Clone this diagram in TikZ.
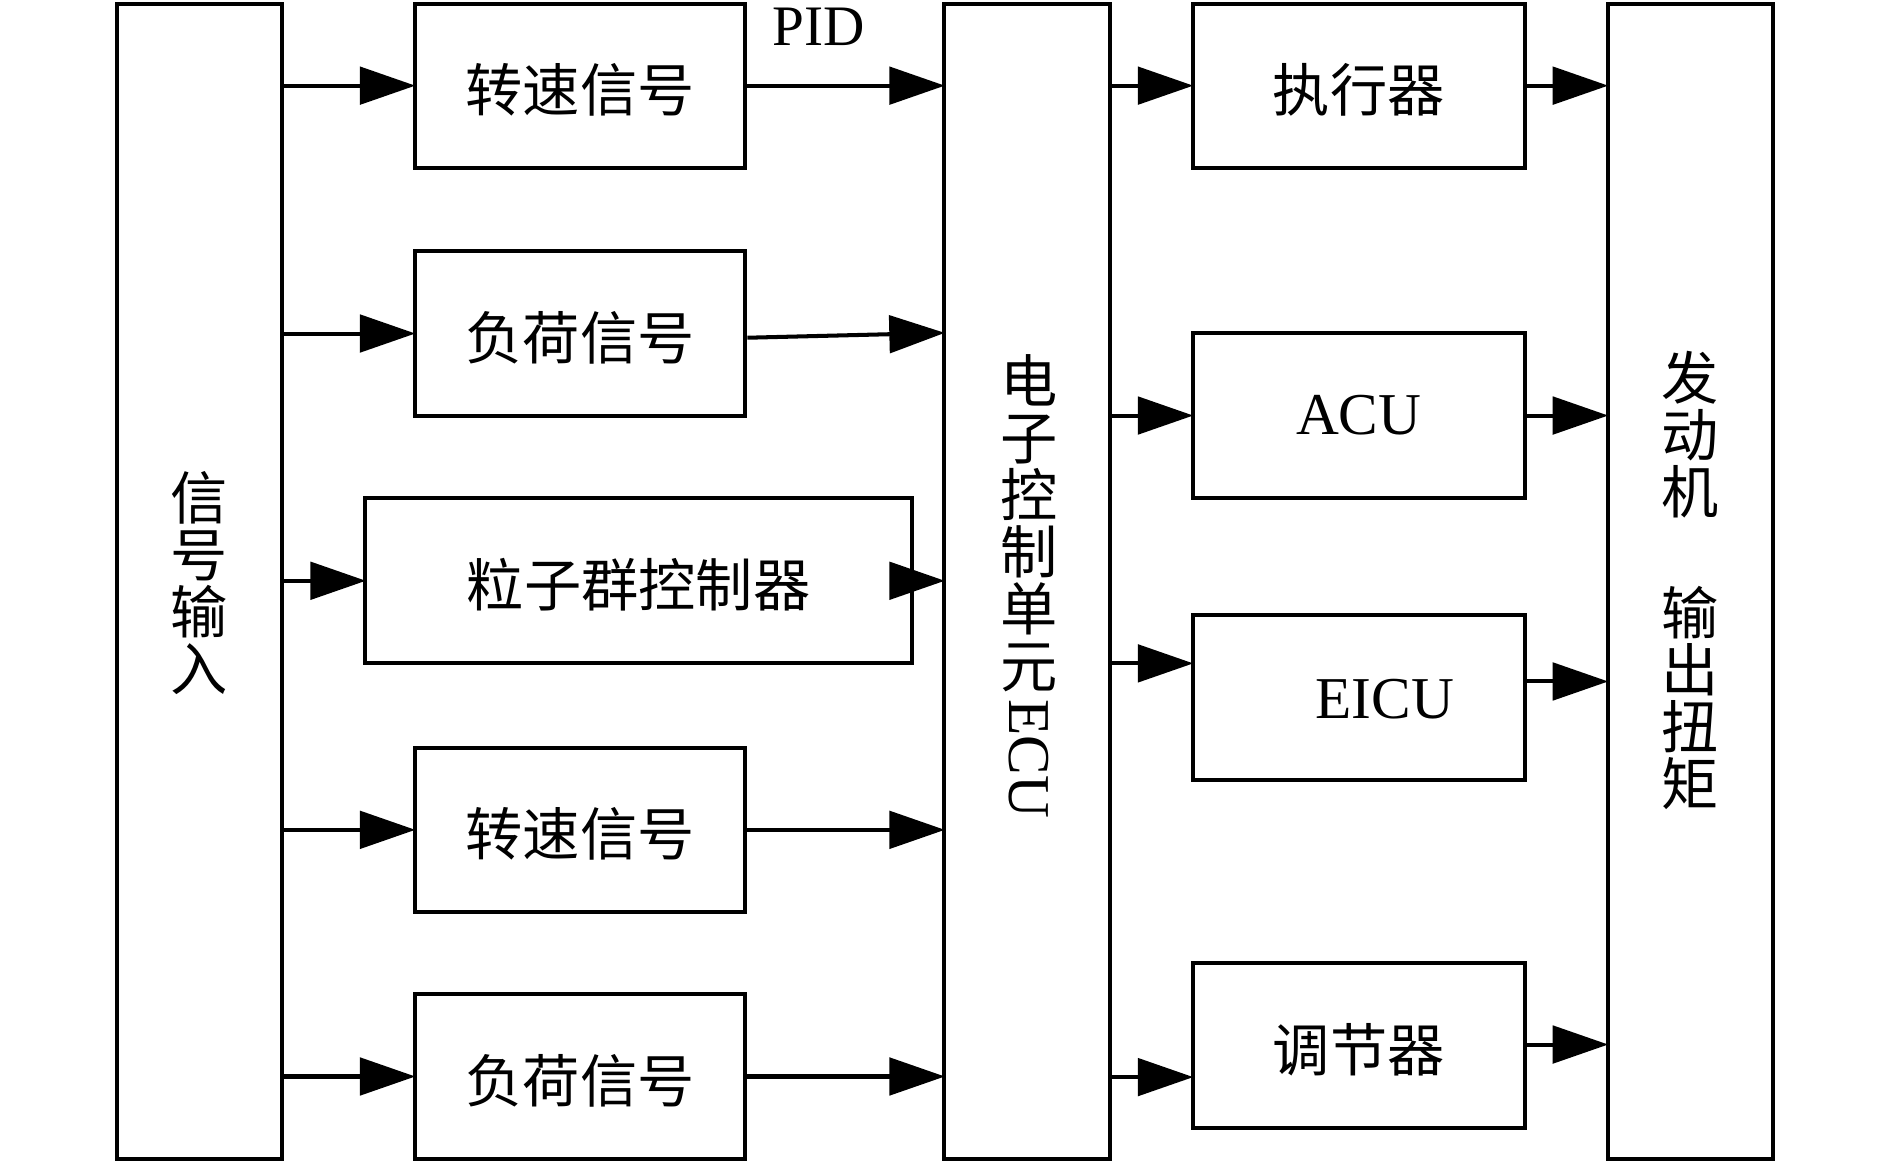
\documentclass[tikz,border=0pt]{standalone}
\usepackage{fontspec}
\setmainfont{Liberation Serif}
\newfontfamily\cjk{Noto Sans CJK SC}
\usetikzlibrary{arrows.meta,calc}
\newcommand{\lowered}[1]{\raisebox{-0.035cm}[\height][\depth]{#1}}
\tikzset{
  box/.style={draw=black, line width=0.95pt, inner sep=0pt, fill=none},
  zh/.style={font=\cjk\fontsize{13.5pt}{13.45pt}\selectfont, inner sep=0pt, align=center},
  en/.style={font=\fontsize{14pt}{14pt}\selectfont, inner sep=0pt},
  arr/.style={line width=0.95pt, -{Triangle[length=0.46cm, width=0.31cm]}, shorten >=-0.02cm},
}
\begin{document}
\begin{tikzpicture}
\useasboundingbox (0,0) rectangle (15.67,-9.63);
% tall boxes
\node[box, minimum width=1.37cm, minimum height=9.58cm] (in)  at (1.655,-4.82) {};
\node[box, minimum width=1.37cm, minimum height=9.58cm] (ecu) at (8.515,-4.82) {};
\node[box, minimum width=1.37cm, minimum height=9.58cm] (eng) at (14.015,-4.82) {};
% column 2
\node[box, zh, minimum width=2.74cm, minimum height=1.36cm] (s1)  at (4.81,-0.71) {\lowered{转速信号}};
\node[box, zh, minimum width=2.74cm, minimum height=1.37cm] (l1)  at (4.81,-2.765) {\lowered{负荷信号}};
\node[box, zh, minimum width=4.53cm, minimum height=1.37cm] (pso) at (5.295,-4.815) {\lowered{粒子群控制器}};
\node[box, zh, minimum width=2.74cm, minimum height=1.36cm] (s2)  at (4.81,-6.88) {\lowered{转速信号}};
\node[box, zh, minimum width=2.74cm, minimum height=1.37cm] (l2)  at (4.81,-8.925) {\lowered{负荷信号}};
% column 4
\node[box, zh, minimum width=2.75cm, minimum height=1.36cm] (act)  at (11.265,-0.71) {\lowered{执行器}};
\node[box, en, minimum width=2.75cm, minimum height=1.37cm] (acu)  at (11.265,-3.445) {ACU};
\node[box, minimum width=2.75cm, minimum height=1.37cm] (eicu) at (11.265,-5.785) {};
\node[en] (eicut) at (11.48,-5.80) {EICU};
\node[box, zh, minimum width=2.75cm, minimum height=1.37cm] (reg)  at (11.265,-8.665) {\lowered{调节器}};
% vertical texts
\node[zh] (intext) at (1.65,-4.83) {信\\号\\输\\入};
\node[zh] (ecutext) at (8.53,-4.34) {电\\子\\控\\制\\单\\元};
\node[en, rotate=-90] (ecuen) at (8.53,-6.29) {ECU};
\node[zh] (engtext1) at (14.01,-3.605) {发\\动\\机};
\node[zh] (engtext2) at (14.01,-5.79) {输\\出\\扭\\矩};
\node[en, font=\fontsize{13.5pt}{13.5pt}\selectfont] (pid) at (6.79,-0.22) {PID};
% helper coordinates
\coordinate (r1) at (0,-5.50);
\coordinate (r2) at (0,-8.93);
\coordinate (o3) at (0,-5.65);
\coordinate (o4) at (0,-8.66);
% input arrows
\draw[arr] (in.east |- s1.west) -- (s1.west);
\draw[arr] (in.east |- l1.west) -- (l1.west);
\draw[arr] (in.east |- pso.west) -- (pso.west);
\draw[arr] (in.east |- s2.west) -- (s2.west);
\draw[arr] (in.east |- l2.west) -- (l2.west);
% to ECU
\draw[arr] (s1.east) -- (ecu.west |- s1.east);
\draw[arr] ($(l1.east)+(0,-0.035)$) -- ($(ecu.west |- l1.east)+(0,0.005)$);
\draw[arr] (pso.east) -- (ecu.west |- pso.east);
\draw[arr] (s2.east) -- (ecu.west |- s2.east);
\draw[arr] (l2.east) -- (ecu.west |- l2.east);
% ECU to column 4
\draw[arr] (ecu.east |- act.west) -- (act.west);
\draw[arr] (ecu.east |- acu.west) -- (acu.west);
\draw[arr] (ecu.east |- r1) -- (eicu.west |- r1);
\draw[arr] (ecu.east |- r2) -- (reg.west |- r2);
% column 4 to engine
\draw[arr] (act.east) -- (eng.west |- act.east);
\draw[arr] (acu.east) -- (eng.west |- acu.east);
\draw[arr] (eicu.east |- o3) -- (eng.west |- o3);
\draw[arr] (reg.east |- o4) -- (eng.west |- o4);
\end{tikzpicture}
\end{document}
